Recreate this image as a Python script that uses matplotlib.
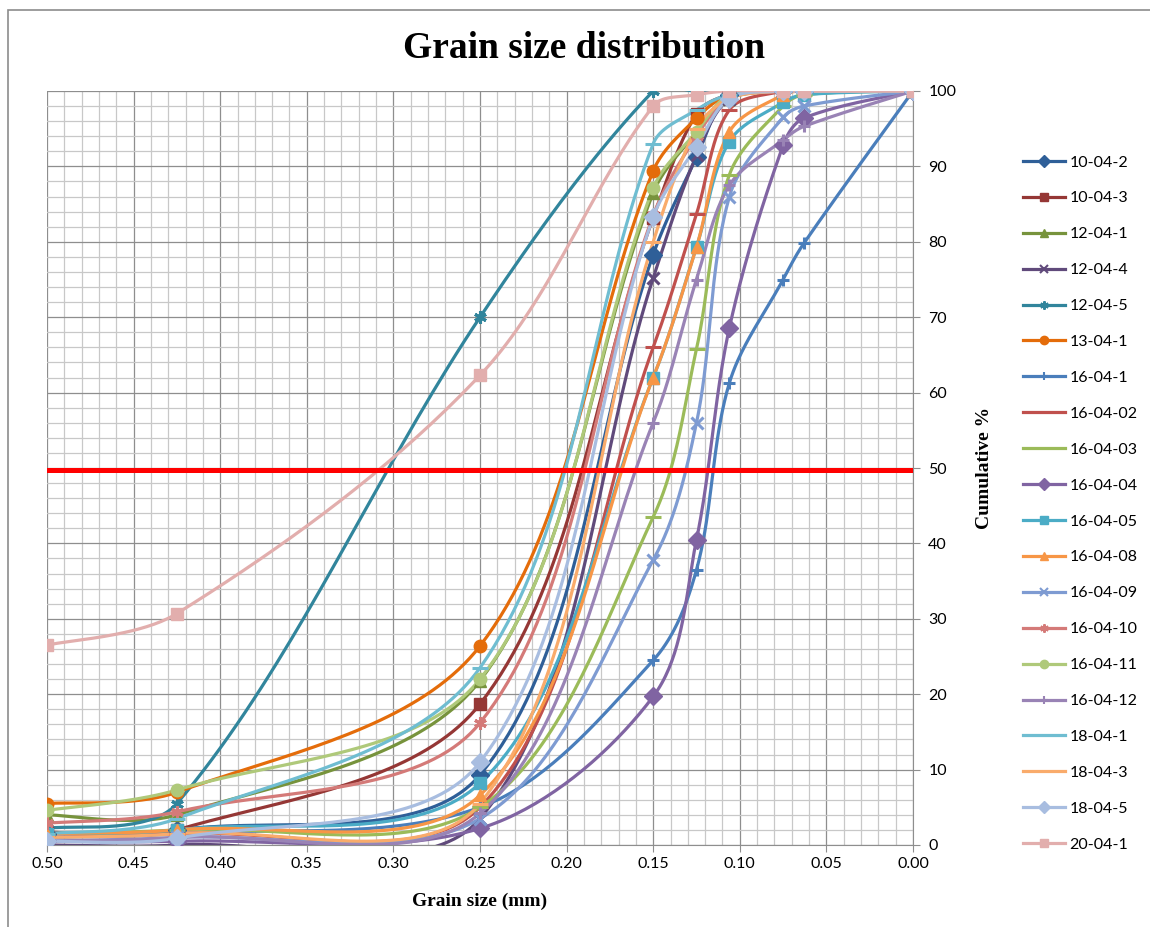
import numpy as np
import matplotlib
matplotlib.use('Agg')
import matplotlib.pyplot as plt
from matplotlib.patches import Rectangle
from matplotlib.lines import Line2D

# sieve sizes (mm)
sizes = [0.5, 0.425, 0.25, 0.15, 0.125, 0.106, 0.075, 0.063, 0.0]

# cumulative % passing
s_10_04_2 = [1.5, 2.0, 9.3, 78.3, 91.2, 99.5, 100, 100, 100]
s_10_04_3 = [1.7, 2.0, 18.7, 83.2, 97.0, 99.5, 100, 100, 100]
s_12_04_1 = [4.0, 4.0, 21.8, 86.5, 94.5, 99.0, 100, 100, 100]
s_12_04_4 = [0.0, 0.0, 3.5, 75.2, 91.5, 99.0, 100, 100, 100]
s_12_04_5 = [2.2, 5.5, 70.0, 100, 100, 100, 100, 100, 100]
s_13_04_1 = [5.5, 7.0, 26.4, 89.4, 96.4, 99.5, 100, 100, 100]
s_16_04_1 = [1.0, 1.5, 5.0, 24.5, 36.5, 61.3, 75.0, 79.8, 100]
s_16_04_02 = [1.5, 1.5, 5.0, 66.0, 83.7, 97.5, 100, 100, 100]
s_16_04_03 = [1.5, 2.0, 5.0, 43.5, 65.8, 88.9, 98.0, 99.5, 100]
s_16_04_04 = [0.5, 0.5, 2.2, 19.7, 40.5, 68.6, 92.8, 96.4, 100]
s_16_04_05 = [1.5, 2.0, 8.2, 62.0, 79.3, 93.3, 98.5, 99.5, 100]
s_16_04_08 = [1.5, 2.0, 6.6, 62.0, 79.3, 94.6, 99.5, 100, 100]
s_16_04_09 = [0.5, 1.0, 3.5, 37.8, 56.0, 86.0, 96.5, 98.0, 100]
s_16_04_10 = [2.9, 4.4, 16.2, 83.5, 94.0, 99.0, 100, 100, 100]
s_16_04_11 = [4.6, 7.3, 22.0, 87.1, 94.6, 99.5, 100, 100, 100]
s_16_04_12 = [0.5, 1.0, 4.2, 56.0, 75.0, 87.5, 93.5, 95.3, 100]
s_18_04_1 = [1.5, 3.5, 23.5, 93.0, 97.5, 99.5, 100, 100, 100]
s_18_04_3 = [1.0, 1.5, 5.5, 80.0, 95.0, 99.0, 100, 100, 100]
s_18_04_5 = [0.5, 0.9, 11.0, 83.3, 92.6, 99.0, 100, 100, 100]
s_20_04_1 = [26.5, 30.7, 62.3, 98.0, 99.5, 100, 100, 100, 100]

labels = ['10-04-2', '10-04-3', '12-04-1', '12-04-4', '12-04-5', '13-04-1',
          '16-04-1', '16-04-02', '16-04-03', '16-04-04', '16-04-05', '16-04-08',
          '16-04-09', '16-04-10', '16-04-11', '16-04-12', '18-04-1', '18-04-3',
          '18-04-5', '20-04-1']
series = [s_10_04_2, s_10_04_3, s_12_04_1, s_12_04_4, s_12_04_5, s_13_04_1,
          s_16_04_1, s_16_04_02, s_16_04_03, s_16_04_04, s_16_04_05, s_16_04_08,
          s_16_04_09, s_16_04_10, s_16_04_11, s_16_04_12, s_18_04_1, s_18_04_3,
          s_18_04_5, s_20_04_1]
colors = ['#2F5F98', '#953735', '#77933C', '#604A7B', '#31859C', '#E46C0A',
          '#4A7EBB', '#C0504D', '#9BBB59', '#8064A2', '#4BACC6', '#F79646',
          '#7E9BD2', '#D47A78', '#AFC97A', '#9983B5', '#6FBDD1', '#F9AB6B',
          '#A8BDE0', '#E2AEAD']

# excel style marker cycle
marker_cycle = ['D', 's', '^', 'x', (6, 2, 0), 'o', '+', '_', '_']

W, H = 866.0, 754.0


def excel_smooth(xs, ys, n=40):
    # bezier smoothing in screen space, tangents scaled by segment length
    xs = np.asarray(xs, float)
    ys = np.asarray(ys, float)
    P = np.column_stack([(0.5 - xs) / 0.5 * W, ys / 100.0 * H])
    pts = [P[0]]
    t = np.linspace(0, 1, n)[1:, None]
    for i in range(len(P) - 1):
        p0 = P[i - 1] if i > 0 else P[i]
        p1 = P[i]
        p2 = P[i + 1]
        p3 = P[i + 2] if i + 2 < len(P) else P[i + 1]
        d01 = np.hypot(*(p1 - p0))
        d12 = np.hypot(*(p2 - p1))
        d23 = np.hypot(*(p3 - p2))
        f1 = d12 / (d01 + d12) / 3.0 if d01 > 0 else 1 / 6.0
        f2 = d12 / (d12 + d23) / 3.0 if d23 > 0 else 1 / 6.0
        c1 = p1 + (p2 - p0) * f1
        c2 = p2 - (p3 - p1) * f2
        seg = (1 - t) ** 3 * p1 + 3 * (1 - t) ** 2 * t * c1 + 3 * (1 - t) * t ** 2 * c2 + t ** 3 * p2
        pts.extend(seg)
    pts = np.array(pts)
    return 0.5 - pts[:, 0] / W * 0.5, pts[:, 1] / H * 100.0


fig = plt.figure(figsize=(11.5, 9.27), dpi=100)
fig.patches.append(Rectangle((8 / 1150, -0.05), 1.2, (927 - 10) / 927 + 0.05,
                             transform=fig.transFigure, fill=False,
                             edgecolor='#8C8C8C', linewidth=1.2))

ax = fig.add_axes([47 / 1150, (927 - 845) / 927, 866 / 1150, 754 / 927])
ax.set_xlim(0.5, 0.0)
ax.set_ylim(0, 100)

ax.set_xticks(np.arange(0, 0.501, 0.05))
ax.set_xticks(np.arange(0, 0.501, 0.01), minor=True)
ax.set_yticks(np.arange(0, 101, 10))
ax.set_yticks(np.arange(0, 101, 2), minor=True)
ax.xaxis.set_major_formatter(matplotlib.ticker.FormatStrFormatter('%.2f'))
ax.grid(which='minor', color='#C8C8C8', linewidth=0.9)
ax.grid(which='major', color='#8E8E8E', linewidth=0.9)
ax.set_axisbelow(True)

ax.yaxis.tick_right()
ax.yaxis.set_label_position('right')
for sp in ['top', 'left']:
    ax.spines[sp].set_visible(False)
for sp in ['bottom', 'right']:
    ax.spines[sp].set_color('#8E8E8E')
ax.tick_params(which='major', length=5, color='#8E8E8E', labelsize=11.5)
ax.tick_params(which='minor', length=0)
ax.tick_params(axis='y', pad=6)
for lab in ax.get_xticklabels() + ax.get_yticklabels():
    lab.set_fontfamily('Lato')

handles = []
for i, (lab, vals, col) in enumerate(zip(labels, series, colors)):
    mk = marker_cycle[i % len(marker_cycle)]
    sx, sy = excel_smooth(sizes, vals)
    ax.plot(sx, sy, color=col, linewidth=2.3, solid_capstyle='round', zorder=3)
    mew = 2.2 if mk in ['x', '+', '_', (6, 2, 0)] else 1.0
    ms = 9 if mk != '_' else 11
    ax.plot(sizes, vals, linestyle='none', marker=mk, markersize=ms,
            color=col, markeredgecolor=col, markeredgewidth=mew, zorder=4)
    handles.append(Line2D([0], [0], color=col, linewidth=2.3, marker=mk,
                          markersize=6 if mk != '_' else 0, markeredgewidth=1.5 if mew > 1.5 else 1.0,
                          markeredgecolor=col))

# 50 % reference line
ax.axhline(49.7, color='#FF0000', linewidth=3.6, zorder=5)

ax.set_xlabel('Grain size (mm)', family='Liberation Serif', fontweight='bold',
              fontsize=14, labelpad=16)
ax.set_ylabel('Cumulative %', family='Liberation Serif', fontweight='bold',
              fontsize=14, labelpad=14)

fig.text(584 / 1150, 1 - 48 / 927, 'Grain size distribution', ha='center', va='center',
         family='Liberation Serif', fontweight='bold', fontsize=27)

leg = fig.legend(handles, labels, loc='upper left', bbox_to_anchor=(1009 / 1150, 1 - 141 / 927),
                 frameon=False, handlelength=2.6, labelspacing=1.36, handletextpad=0.3,
                 prop={'family': 'Lato', 'size': 11.5})

fig.savefig('out.png', dpi=100)
